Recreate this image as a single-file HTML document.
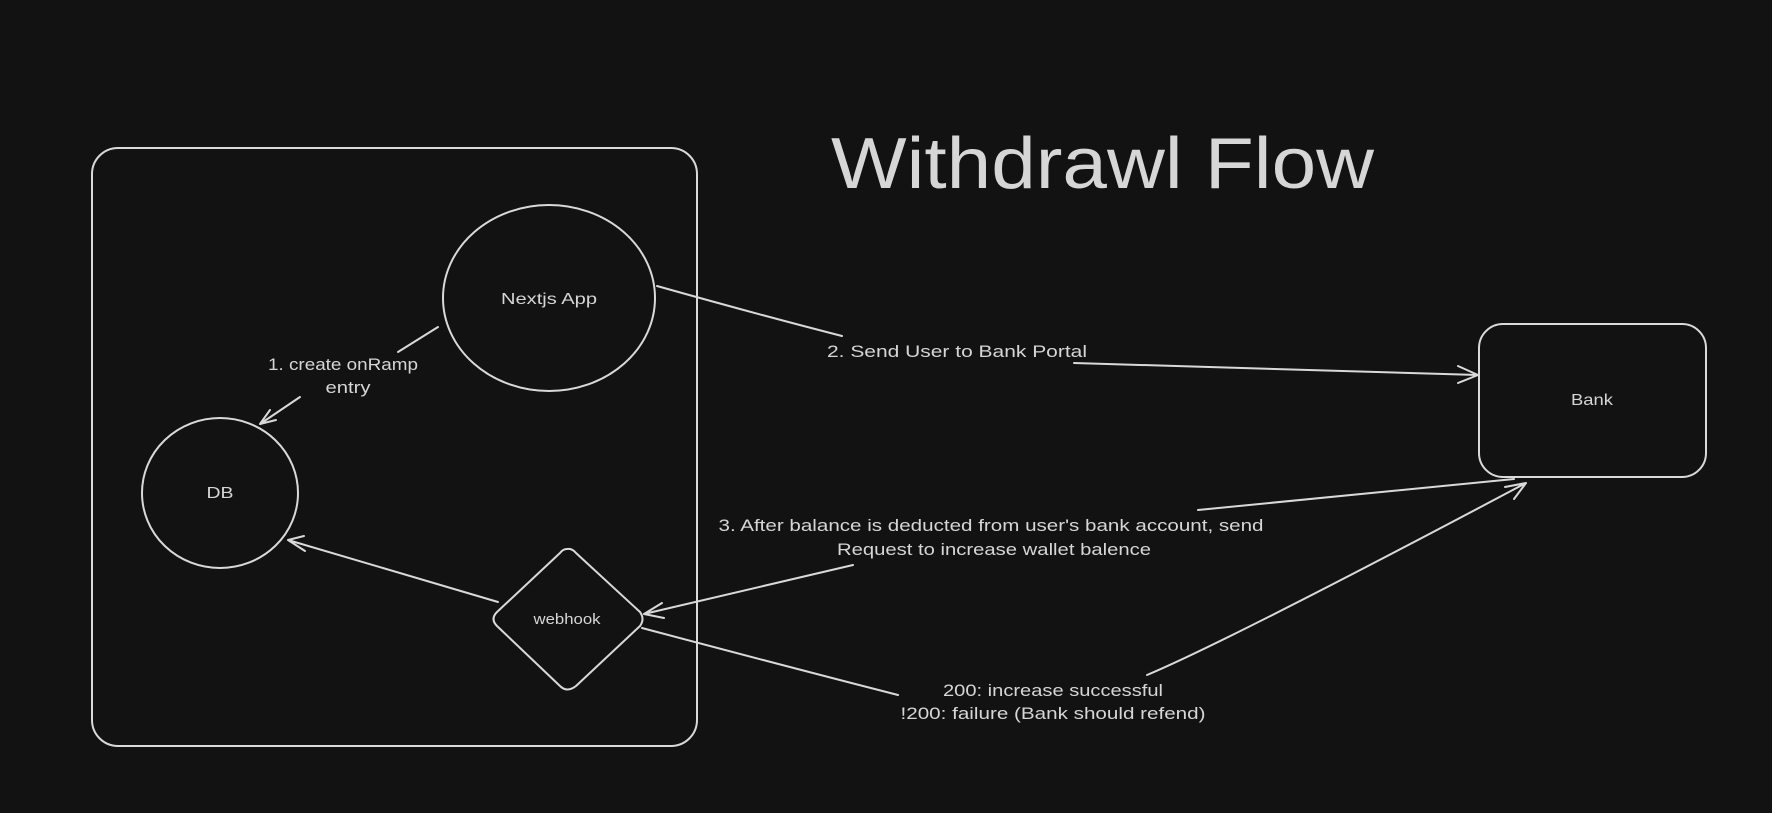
<!DOCTYPE html>
<html><head><meta charset="utf-8"><style>
html,body{margin:0;padding:0;background:#121212;}
svg{display:block}
text{font-family:"Liberation Sans",sans-serif;fill:#d6d6d6;}
</style></head><body>
<svg width="1772" height="813" viewBox="0 0 1772 813" xmlns="http://www.w3.org/2000/svg">
<rect width="1772" height="813" fill="#121212"/>
<g fill="none" stroke="#d9d9d9" stroke-width="2" stroke-linecap="round" stroke-linejoin="round">
<rect x="92" y="148" width="605" height="598" rx="26"/>
<ellipse cx="549" cy="298" rx="106" ry="93"/>
<ellipse cx="220" cy="493" rx="78" ry="75"/>
<path d="M567 549 Q572 548 576 553 L640 612 Q645 619 640 626 L576 686 Q567 693 560 686 L497 626 Q490 619 497 612 L560 553 Q563 549 567 549 Z"/>
<rect x="1479" y="324" width="227" height="153" rx="24"/>
<path d="M438 327 L398 352"/>
<path d="M300 397 L260 424 M260 424 L270 410 M260 424 L276 420"/>
<path d="M657 286 Q760 315 842 336"/>
<path d="M1074 363 L1478 375 M1478 375 L1458 366 M1478 375 L1458 383"/>
<path d="M1514 479 L1198 510"/>
<path d="M853 565 L644 614 M644 614 L662 603 M644 614 L664 618"/>
<path d="M498 602 L288 540 M288 540 L305 551 M288 540 L304 536"/>
<path d="M642 628 Q800 670 898 695"/>
<path d="M1147 675 Q1230 640 1526 483 M1526 483 L1505 487 M1526 483 L1514 499"/>
</g>
<text x="831" y="188" font-size="72" textLength="543" lengthAdjust="spacingAndGlyphs">Withdrawl Flow</text>
<g font-size="17" text-anchor="middle">
<text x="549" y="304" font-size="16" textLength="96" lengthAdjust="spacingAndGlyphs">Nextjs App</text>
<text x="220" y="498" font-size="16" textLength="27" lengthAdjust="spacingAndGlyphs">DB</text>
<text x="567" y="624" font-size="15" textLength="67" lengthAdjust="spacingAndGlyphs">webhook</text>
<text x="1592" y="405" font-size="16" textLength="42" lengthAdjust="spacingAndGlyphs">Bank</text>
<text x="343" y="370" textLength="150" lengthAdjust="spacingAndGlyphs">1. create onRamp</text>
<text x="348" y="393" textLength="45" lengthAdjust="spacingAndGlyphs">entry</text>
<text x="957" y="357" textLength="260" lengthAdjust="spacingAndGlyphs">2. Send User to Bank Portal</text>
<text x="991" y="531" textLength="545" lengthAdjust="spacingAndGlyphs">3. After balance is deducted from user's bank account, send</text>
<text x="994" y="555" textLength="314" lengthAdjust="spacingAndGlyphs">Request to increase wallet balence</text>
<text x="1053" y="696" textLength="220" lengthAdjust="spacingAndGlyphs">200: increase successful</text>
<text x="1053" y="719" textLength="305" lengthAdjust="spacingAndGlyphs">!200: failure (Bank should refend)</text>
</g>
</svg>
</body></html>
